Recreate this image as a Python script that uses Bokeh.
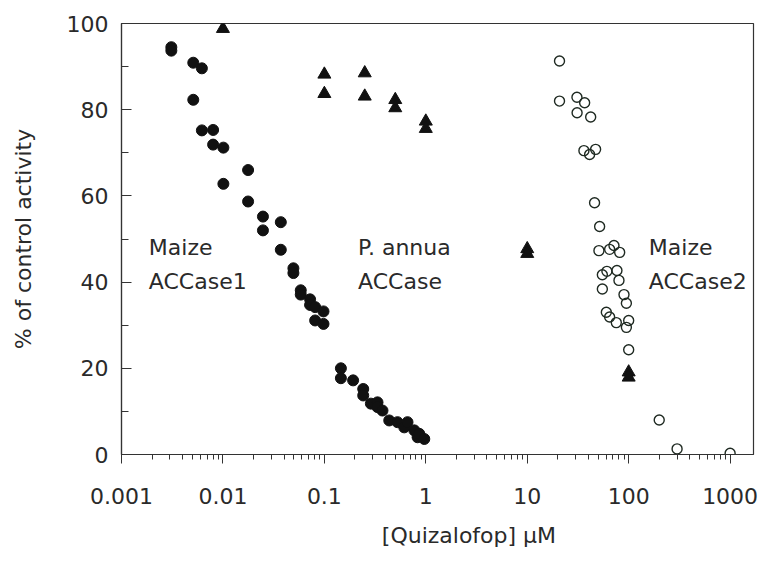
from bokeh.plotting import figure
from bokeh.models import FixedTicker, CustomJSTickFormatter, Range1d, Label
from bokeh.embed import file_html
from bokeh.resources import INLINE

# ---------------- data ----------------
maize1_x = [0.0031, 0.0031, 0.0051, 0.0051, 0.0062, 0.0062, 0.0080, 0.0080, 0.0101, 0.0101,
            0.0177, 0.0177, 0.0248, 0.0248, 0.0372, 0.0372, 0.0495, 0.0495, 0.0585, 0.0585,
            0.0723, 0.0723, 0.0811, 0.0811, 0.098, 0.098, 0.1455, 0.1455, 0.192, 0.2415,
            0.2415, 0.2875, 0.334, 0.334, 0.374, 0.436, 0.526, 0.613, 0.66, 0.77,
            0.83, 0.863, 0.966]
maize1_y = [94.5, 93.7, 90.9, 82.3, 89.6, 75.2, 75.3, 71.9, 71.2, 62.8,
            66.0, 58.7, 55.2, 52.0, 53.9, 47.5, 43.2, 42.1, 38.1, 37.1,
            36.0, 34.7, 34.2, 31.1, 33.2, 30.3, 20.0, 17.7, 17.2, 15.2,
            13.7, 11.8, 12.1, 11.0, 10.2, 7.9, 7.5, 6.3, 7.5, 5.6,
            4.0, 4.8, 3.6]

pannua_x = [0.01, 0.1, 0.1, 0.25, 0.25, 0.5, 0.5, 1, 1, 10, 10, 100, 100]
pannua_y = [98.8, 88.2, 83.7, 88.5, 83.1, 82.3, 80.4, 77.3, 75.6, 47.7, 46.6, 19.1, 17.9]

maize2_x = [20.8, 20.8, 30.9, 36.8, 31.0, 42.2, 36.2, 47.2, 41.2, 46.1, 51.7, 50.9, 64.9,
            71.6, 81.5, 55.0, 61.0, 76.6, 80.2, 55.0, 89.9, 94.9, 60.2, 64.9, 75.5, 100,
            94.9, 100, 200, 300, 1000]
maize2_y = [91.3, 82.0, 82.9, 81.6, 79.3, 78.3, 70.5, 70.8, 69.6, 58.4, 52.9, 47.3, 47.6,
            48.5, 46.9, 41.7, 42.5, 42.7, 40.4, 38.4, 37.1, 35.1, 33.0, 31.9, 30.6, 31.1,
            29.5, 24.3, 8.0, 1.3, 0.3]

x_tick_values = [0.001, 0.01, 0.1, 1, 10, 100, 1000]
x_tick_labels = ["0.001", "0.01", "0.1", "1", "10", "100", "1000"]
y_tick_values = [0, 20, 40, 60, 80, 100]
y_minor_values = [10, 30, 50, 70, 90]

FONT = "DejaVu Sans"
INK = "#2a2a2a"

p = figure(width=763, height=561, x_axis_type="log",
           output_backend="svg", toolbar_location=None,
           x_range=Range1d(0.001, 1700), y_range=Range1d(0, 100),
           min_border_left=121, min_border_right=10, min_border_top=23,
           min_border_bottom=107)
p.background_fill_color = "white"
p.border_fill_color = "white"
p.outline_line_color = "#333333"
p.outline_line_width = 1.2
p.xgrid.visible = False
p.ygrid.visible = False

# minor log ticks 2..9 per decade
x_minor = []
for t in x_tick_values:
    for k in range(2, 10):
        x_minor.append(t * k)
p.xaxis.ticker = FixedTicker(ticks=x_tick_values, minor_ticks=x_minor)
p.xaxis.formatter = CustomJSTickFormatter(
    args=dict(vals=x_tick_values, labels=x_tick_labels),
    code="""
    for (let i = 0; i < vals.length; i++) {
        if (Math.abs(Math.log10(tick) - Math.log10(vals[i])) < 1e-6) return labels[i];
    }
    return '';
    """)
p.yaxis.ticker = FixedTicker(ticks=y_tick_values, minor_ticks=y_minor_values)

for ax in (p.xaxis[0], p.yaxis[0]):
    ax.axis_line_color = "#333333"
    ax.axis_line_width = 1.2
    ax.major_tick_line_color = "#333333"
    ax.minor_tick_line_color = "#333333"
    ax.major_label_text_font = FONT
    ax.major_label_text_font_size = "22px"
    ax.major_label_text_color = INK
    ax.axis_label_text_font = FONT
    ax.axis_label_text_font_size = "22px"
    ax.axis_label_text_font_style = "normal"
    ax.axis_label_text_color = INK

p.xaxis.major_tick_out = 9
p.xaxis.major_tick_in = 0
p.xaxis.minor_tick_out = 5
p.xaxis.minor_tick_in = 0
p.xaxis.major_label_standoff = 24
# leading non-breaking spaces shift the centred label to the right, as in the original
p.xaxis.axis_label = "\u00a0" * 9 + "[Quizalofop]\u00a0μM"
p.xaxis.axis_label_standoff = 16

p.yaxis.major_tick_in = 10
p.yaxis.major_tick_out = 0
p.yaxis.minor_tick_in = 7
p.yaxis.minor_tick_out = 0
p.yaxis.major_label_standoff = 13
p.yaxis.axis_label = "% of control activity"
p.yaxis.axis_label_standoff = 28

# ---------------- marks ----------------
p.scatter(maize1_x, maize1_y, marker="circle", size=11, fill_color="#111111",
          line_color="#111111")
p.scatter(maize2_x, maize2_y, marker="circle", size=10, fill_color=None,
          line_color="#1f2a22", line_width=1.4)
p.scatter(pannua_x, pannua_y, marker="triangle", size=13, fill_color="#111111",
          line_color="#111111")

# ---------------- annotations ----------------
def add_text(x, y, txt, size="22px"):
    p.add_layout(Label(x=x, y=y, text=txt, text_font=FONT, text_font_size=size,
                       text_color=INK, text_baseline="top", text_align="left"))

add_text(0.00186, 51.0, "Maize")
add_text(0.00186, 43.0, "ACCase1")
add_text(0.215, 51.0, "P.  annua")
add_text(0.215, 43.0, "ACCase")
add_text(158, 51.0, "Maize")
add_text(158, 43.0, "ACCase2")

open("out.html", "w").write(file_html(p, INLINE))
